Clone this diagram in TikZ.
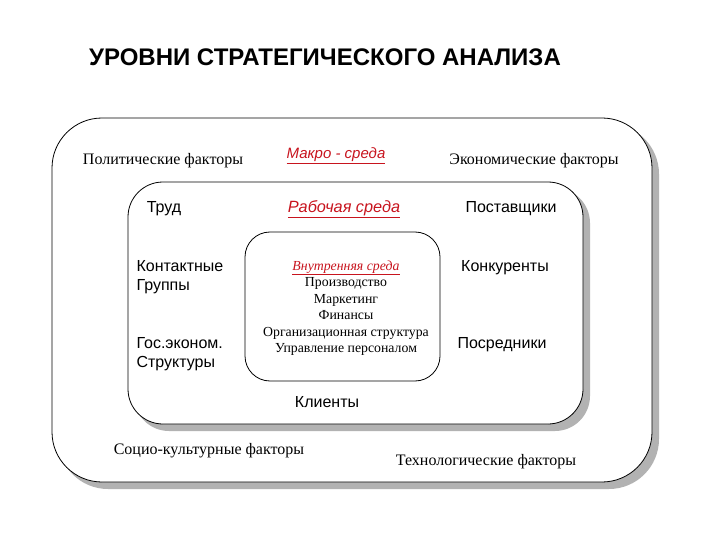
\documentclass[tikz,border=0pt]{standalone}
\usepackage{fontspec}
\setmainfont{Liberation Serif}
\setsansfont{Liberation Sans}
\definecolor{dred}{RGB}{200,20,30}
\begin{document}
\begin{tikzpicture}[x=1pt,y=-1pt,
  box/.style={draw=black,fill=white,line width=0.8pt},
  shad/.style={fill=gray!60},
  ser/.style={font=\fontsize{16}{18}\selectfont},
  sans/.style={font=\sffamily\fontsize{16}{19}\selectfont,align=left},
  inner/.style={font=\fontsize{13.8}{16.5}\selectfont,align=center}]
\useasboundingbox (0,0) rectangle (720,540);
\node[font=\sffamily\bfseries\fontsize{24}{26}\selectfont] (title) at (325,57) {УРОВНИ СТРАТЕГИЧЕСКОГО АНАЛИЗА};
% outer
\fill[shad,rounded corners=50] (58,124) rectangle (659,489);
\draw[box,rounded corners=50] (52,118) rectangle (652,482);
\fill[shad,rounded corners=35] (134,188) rectangle (590,431);
\draw[box,rounded corners=35] (128,182) rectangle (583,424);
\draw[box,rounded corners=25] (245,232) rectangle (440,381);
\node[ser] (pol) at (163,161) {Политические факторы};
\node[font=\sffamily\itshape\fontsize{15}{17}\selectfont,text=dred] (macro) at (336,156) {\underline{Макро - среда}};
\node[ser] (eco) at (534,161) {Экономические факторы};
\node[sans] (trud) at (164,209) {Труд};
\node[font=\sffamily\itshape\fontsize{16.3}{18}\selectfont,text=dred] (rab) at (344,209) {\underline{Рабочая среда}};
\node[sans] (post) at (511,209) {Поставщики};
\node[sans,anchor=west] (kont) at (133,277) {Контактные\\Группы};
\node[sans] (konk) at (505,268) {Конкуренты};
\node[sans,anchor=west] (gos) at (133,354) {Гос.эконом.\\Структуры};
\node[sans] (posr) at (502,345) {Посредники};
\node[inner] (vn) at (346,308) {{\itshape\color{dred}\underline{Внутренняя среда}}\\Производство\\Маркетинг\\Финансы\\Организационная структура\\Управление персоналом};
\node[sans] (kli) at (327,402) {Клиенты};
\node[ser] (soc) at (209,451) {Социо-культурные факторы};
\node[ser] (tech) at (486,462) {Технологические факторы};
\end{tikzpicture}
\end{document}
